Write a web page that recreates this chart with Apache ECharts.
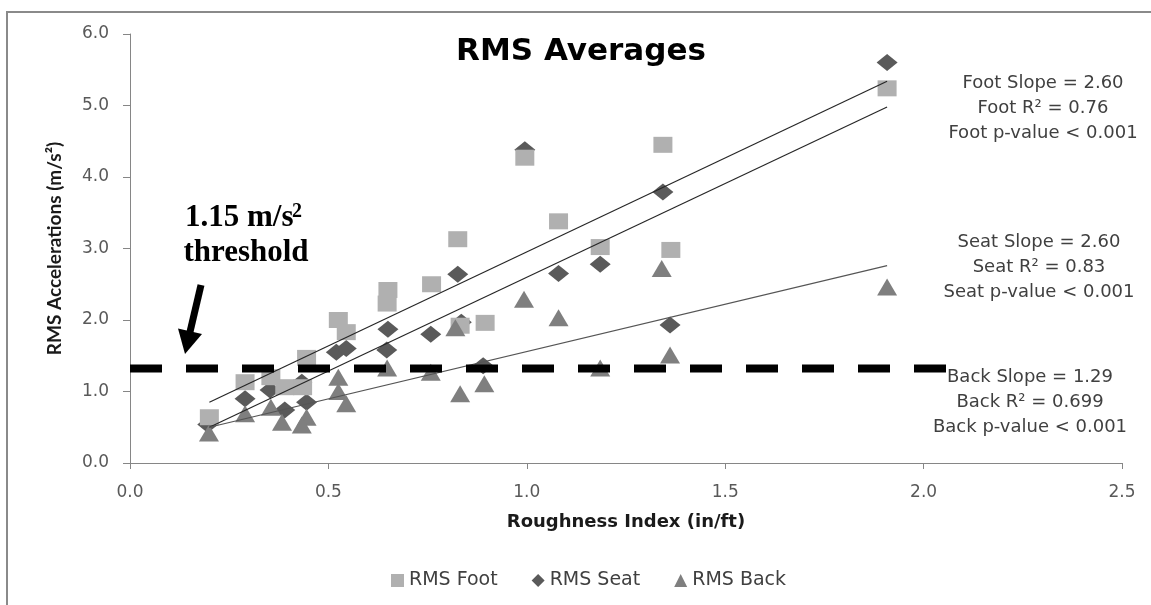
<!DOCTYPE html>
<html>
<head>
<meta charset="utf-8">
<title>RMS Averages</title>
<script src="https://cdn.jsdelivr.net/npm/echarts@6/dist/echarts.min.js"></script>
<style>
  html, body { margin: 0; padding: 0; background: #fff; }
  #chart { width: 1151px; height: 605px; }
</style>
</head>
<body>
<div id="chart"></div>
<script>
// values
const footX = [0.20, 0.29, 0.355, 0.39, 0.435, 0.445, 0.525, 0.545, 0.65, 0.648, 0.76, 0.826, 0.832, 0.895, 0.995, 1.08, 1.185, 1.343, 1.363, 1.908];
const footY = [0.64, 1.13, 1.20, 1.06, 1.06, 1.47, 2.00, 1.83, 2.42, 2.23, 2.50, 3.13, 1.92, 1.96, 4.27, 3.38, 3.02, 4.45, 2.98, 5.24];

const seatX = [0.196, 0.29, 0.353, 0.39, 0.433, 0.445, 0.52, 0.545, 0.65, 0.647, 0.758, 0.826, 0.835, 0.89, 0.995, 1.08, 1.185, 1.343, 1.361, 1.908];
const seatY = [0.54, 0.90, 1.02, 0.74, 1.13, 0.85, 1.55, 1.60, 1.87, 1.58, 1.80, 2.64, 1.97, 1.36, 4.38, 2.65, 2.78, 3.79, 1.93, 5.60];

const backX = [0.199, 0.29, 0.355, 0.383, 0.445, 0.433, 0.525, 0.525, 0.545, 0.648, 0.758, 0.82, 0.832, 0.893, 0.993, 1.08, 1.185, 1.34, 1.361, 1.908];
const backY = [0.42, 0.69, 0.78, 0.57, 0.64, 0.53, 1.20, 1.00, 0.83, 1.33, 1.27, 1.89, 0.97, 1.11, 2.29, 2.03, 1.33, 2.72, 1.51, 2.46];

// trend lines (read as end points)
const trendX = [0.20, 1.908];
const footTrend = [0.85, 5.34];
const seatTrend = [0.50, 4.98];
const backTrend = [0.50, 2.76];

// dashed threshold line
const thresholdX = [0, 2.059];
const thresholdY = [1.32, 1.32];

const xTicks = [0, 0.5, 1.0, 1.5, 2.0, 2.5];
const yTicks = [0, 1, 2, 3, 4, 5, 6];

const footText = ['Foot Slope = 2.60', 'Foot R² = 0.76', 'Foot p-value < 0.001'];
const seatText = ['Seat Slope = 2.60', 'Seat R² = 0.83', 'Seat p-value < 0.001'];
const backText = ['Back Slope = 1.29', 'Back R² = 0.699', 'Back p-value < 0.001'];

const zip = (xs, ys) => xs.map((x, i) => [x, ys[i]]);

const SANS = 'DejaVu Sans';
const AXIS_GREY = '#868686';

function noteBlock(lines, cx, y0) {
  return lines.map((t, i) => ({
    type: 'text',
    x: cx, y: y0 + i * 25,
    style: {
      text: t, font: '18px "DejaVu Sans"', fill: '#404040',
      textAlign: 'center', textVerticalAlign: 'middle'
    }
  }));
}

const chart = echarts.init(document.getElementById('chart'));

const option = {
  backgroundColor: '#fff',
  animation: false,
  grid: { left: 130, right: 29, top: 34, bottom: 142 },
  xAxis: {
    type: 'value',
    min: xTicks[0], max: xTicks[xTicks.length - 1], interval: 0.5,
    name: 'Roughness Index (in/ft)',
    nameLocation: 'middle', nameGap: 50,
    nameTextStyle: { fontFamily: SANS, fontWeight: 'bold', fontSize: 18, color: '#1a1a1a' },
    axisLine: { lineStyle: { color: AXIS_GREY, width: 1 } },
    axisTick: { show: true, length: 6, lineStyle: { color: AXIS_GREY } },
    axisLabel: { margin: 21, fontFamily: SANS, fontSize: 17, color: '#595959', formatter: v => v.toFixed(1) },
    splitLine: { show: false }
  },
  yAxis: {
    type: 'value',
    min: yTicks[0], max: yTicks[yTicks.length - 1], interval: 1,
    name: 'RMS Accelerations (m/s²)',
    nameLocation: 'middle', nameGap: 66, nameRotate: 90,
    nameTextStyle: { fontFamily: 'Lato', fontWeight: 'bold', fontSize: 19, color: '#1a1a1a' },
    axisLine: { show: true, lineStyle: { color: AXIS_GREY, width: 1 } },
    axisTick: { show: true, length: 7, lineStyle: { color: AXIS_GREY } },
    axisLabel: { margin: 21, fontFamily: SANS, fontSize: 17, color: '#595959', formatter: v => v.toFixed(1) },
    splitLine: { show: false }
  },
  legend: {
    left: 386, top: 566,
    itemWidth: 13, itemHeight: 13, itemGap: 34,
    textStyle: { fontFamily: SANS, fontSize: 19, color: '#404040' },
    data: [
      { name: 'RMS Foot', icon: 'rect' },
      { name: 'RMS Seat', icon: 'diamond', textStyle: { width: 128 } },
      { name: 'RMS Back', icon: 'triangle' }
    ]
  },
  series: [
    {
      name: 'RMS Seat', type: 'scatter', z: 2,
      symbol: 'diamond', symbolSize: [21, 17],
      itemStyle: { color: '#5a5a5a', opacity: 1 },
      data: zip(seatX, seatY)
    },
    {
      name: 'RMS Foot', type: 'scatter', z: 3,
      symbol: 'rect', symbolSize: [19, 16],
      itemStyle: { color: '#b0b0b0', opacity: 1 },
      data: zip(footX, footY)
    },
    {
      name: 'RMS Back', type: 'scatter', z: 4,
      symbol: 'triangle', symbolSize: [20, 17],
      itemStyle: { color: '#7f7f7f', opacity: 1 },
      data: zip(backX, backY)
    },
    {
      name: 'foot trend', type: 'line', z: 5, silent: true, symbol: 'none',
      lineStyle: { color: '#262626', width: 1.2 },
      data: zip(trendX, footTrend)
    },
    {
      name: 'seat trend', type: 'line', z: 5, silent: true, symbol: 'none',
      lineStyle: { color: '#262626', width: 1.2 },
      data: zip(trendX, seatTrend)
    },
    {
      name: 'back trend', type: 'line', z: 5, silent: true, symbol: 'none',
      lineStyle: { color: '#555', width: 1.2 },
      data: zip(trendX, backTrend)
    },
    {
      name: 'threshold', type: 'line', z: 6, silent: true, symbol: 'none',
      lineStyle: { color: '#000', width: 8, type: [32, 24], cap: 'butt' },
      data: zip(thresholdX, thresholdY)
    }
  ],
  graphic: [
    // outer frame
    {
      type: 'rect', z: -1, silent: true,
      shape: { x: 7, y: 12, width: 1300, height: 800 },
      style: { fill: 'none', stroke: '#8a8a8a', lineWidth: 2 }
    },
    {
      type: 'text', x: 581, y: 52,
      style: {
        text: 'RMS Averages', font: 'bold 31px "DejaVu Sans"', fill: '#000',
        textAlign: 'center', textVerticalAlign: 'middle'
      }
    },
    ...noteBlock(footText, 1043, 83),
    ...noteBlock(seatText, 1039, 242),
    ...noteBlock(backText, 1030, 377),
    // threshold note
    {
      type: 'text', x: 185, y: 218,
      style: {
        text: '1.15 m/s', font: 'bold 31px "Liberation Serif"', fill: '#000',
        textAlign: 'left', textVerticalAlign: 'middle'
      }
    },
    {
      type: 'text', x: 292, y: 212,
      style: {
        text: '2', font: 'bold 20px "Liberation Serif"', fill: '#000',
        textAlign: 'left', textVerticalAlign: 'middle'
      }
    },
    {
      type: 'text', x: 246, y: 253,
      style: {
        text: 'threshold', font: 'bold 31px "Liberation Serif"', fill: '#000',
        textAlign: 'center', textVerticalAlign: 'middle'
      }
    },
    // arrow
    {
      type: 'line', silent: true,
      shape: { x1: 201, y1: 285, x2: 189.5, y2: 334 },
      style: { stroke: '#000', lineWidth: 7 }
    },
    {
      type: 'polygon', silent: true,
      shape: { points: [[185, 354], [202, 334], [178, 328.5]] },
      style: { fill: '#000' }
    }
  ]
};

chart.setOption(option);
</script>
</body>
</html>
